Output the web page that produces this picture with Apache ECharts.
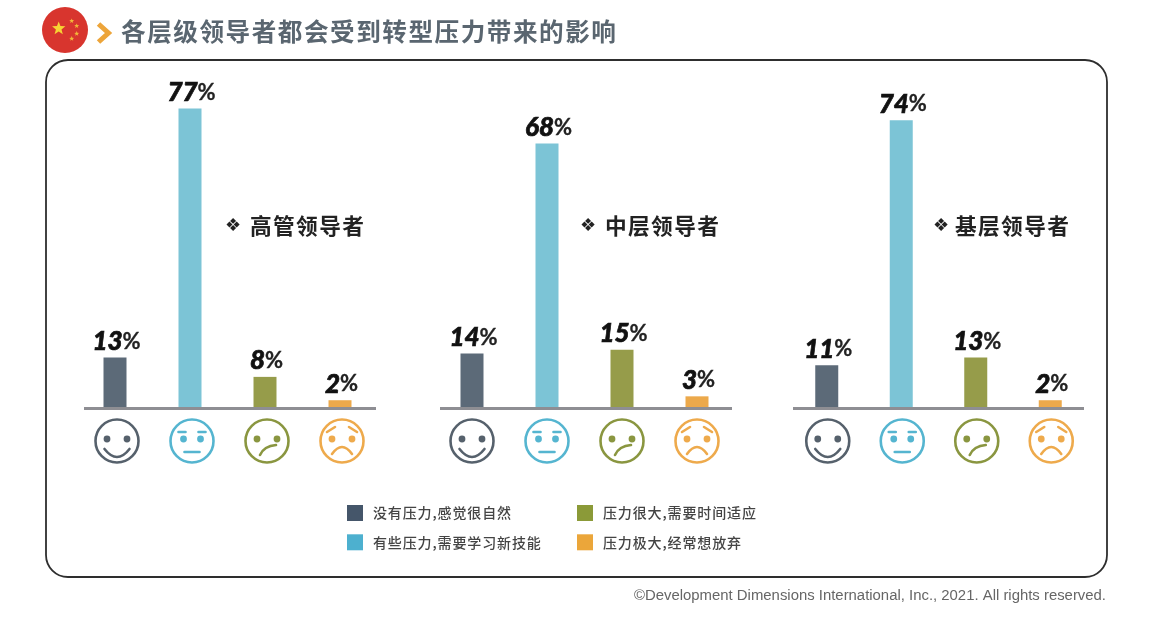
<!DOCTYPE html>
<html><head><meta charset="utf-8">
<script src="https://cdn.jsdelivr.net/npm/echarts@6/dist/echarts.min.js"></script>
<style>html,body{margin:0;padding:0;background:#fff}#c{width:1170px;height:618px}</style></head>
<body><div id="c"></div>
<script>
const titleText = '各层级领导者都会受到转型压力带来的影响';
const footerText = '©Development Dimensions International, Inc., 2021. All rights reserved.';
const levels = ['没有压力,感觉很自然','有些压力,需要学习新技能','压力很大,需要时间适应','压力极大,经常想放弃'];
const groups = ['高管领导者','中层领导者','基层领导者'];
const senior = [13,77,8,2];
const middle = [14,68,15,3];
const junior = [11,74,13,2];
const groupValues = [senior, middle, junior];
const barColors = ['#5c6a78','#7cc4d6','#969c4a','#eca94b'];
const faceColors = ['#56616c','#55b5d0','#8a9640','#eeaa4c'];
const legendColors = ['#45566a','#4db0cf','#8b9a38','#eba63a'];
const grids = [{left:77.5,width:300},{left:434.5,width:300},{left:789.5,width:298}];
const axisSpans = [[84,376],[440,732],[793,1084]];
const groupLabelX = [225,580,933];
const faceShift = [2,0,1];

const sp = s => s.split('').join('\u200a');
const CJK = '"Noto Sans CJK SC"';

const makeFace = shift => function(params, api){
  const k = api.value(0);
  const cx = api.coord([k,0])[0] + shift, cy = api.coord([k,0])[1] + 33;
  const c = faceColors[k];
  const st = {stroke:c, fill:'none', lineWidth:2.6, lineCap:'round'};
  const ch = [{type:'circle',shape:{cx,cy,r:21.5},style:{stroke:c,fill:'none',lineWidth:2.6}}];
  const eye = (dx,dy)=>ch.push({type:'circle',shape:{cx:cx+dx,cy:cy+dy,r:3.4},style:{fill:c}});
  const line = (x1,y1,x2,y2)=>ch.push({type:'line',shape:{x1:cx+x1,y1:cy+y1,x2:cx+x2,y2:cy+y2},style:st});
  const curve = (x1,y1,qx,qy,x2,y2)=>ch.push({type:'bezierCurve',shape:{x1:cx+x1,y1:cy+y1,cpx1:cx+qx,cpy1:cy+qy,x2:cx+x2,y2:cy+y2},style:st});
  const ex = k===1 ? 8.5 : 10;
  eye(-ex,-2); eye(ex,-2);
  if(k===0){ curve(-12.5,8,0,24,12.5,8); }
  if(k===1){ line(-13.5,-9,-6.5,-9); line(6.5,-9,13.5,-9); line(-7.5,11,7.5,11); }
  if(k===2){ curve(-7,14,-3,5,9,4); }
  if(k===3){ line(-15,-9,-7,-14); line(7,-14,15,-9); curve(-10,13,0,-1,10,13); }
  return {type:'group',children:ch};
};

const series = [];
groupValues.forEach((vals,g)=>{
  levels.forEach((name,i)=>{
    series.push({
      type:'bar', name, xAxisIndex:g, yAxisIndex:g, barWidth:23, barGap:'-100%',
      data: vals.map((v,j)=> j===i ? v : null),
      itemStyle:{color:barColors[i]}, silent:true,
      label:{show:true,position:'top',distance:3,offset:[1.5,0],
        formatter:p=>p.value==null?'':`{n|${p.value}}{p|%}`,
        rich:{n:{fontFamily:'Lato',fontStyle:'italic',fontWeight:900,fontSize:26,color:'#111',textBorderColor:'#111',textBorderWidth:0.7},
              p:{fontFamily:'Lato',fontWeight:700,fontSize:22,color:'#222',textBorderColor:'#222',textBorderWidth:0.3}}}
    });
  });
  series.push({type:'custom',xAxisIndex:g,yAxisIndex:g,silent:true,clip:false,
    renderItem:makeFace(faceShift[g]),encode:{x:0,y:1},data:levels.map((_,j)=>[j,0])});
});

function star(cx,cy,r,fill){
  const pts=[];
  for(let i=0;i<10;i++){
    const a=-Math.PI/2+i*Math.PI/5, q=i%2?r*0.42:r;
    pts.push([cx+q*Math.cos(a),cy+q*Math.sin(a)]);
  }
  return {type:'polygon',shape:{points:pts},style:{fill}};
}

const graphic = [
  {type:'rect',shape:{x:46,y:60,width:1061,height:517,r:22},style:{fill:'none',stroke:'#2e2e2e',lineWidth:1.8},z:0},
  {type:'circle',shape:{cx:65,cy:30,r:23},style:{fill:'#d8352e'}},
  star(58.7,28.5,7,'#f7d334'),
  star(71.7,21,2.6,'#f2b83a'), star(76.7,26,2.6,'#f2b83a'), star(76.7,33.7,2.6,'#f2b83a'), star(71.7,38.7,2.6,'#f2b83a'),
  {type:'polyline',shape:{points:[[98.5,24],[108.5,33],[98.5,42]]},style:{stroke:'#eda53a',fill:'none',lineWidth:5}},
  {type:'text',x:121,y:32,style:{text:sp(titleText),font:`700 24.6px ${CJK}`,fill:'#5a6670',textVerticalAlign:'middle'}},
  {type:'text',x:1106,y:596,style:{text:footerText,font:'14.9px "Liberation Sans"',fill:'#666',textAlign:'right',textVerticalAlign:'middle'}}
];
axisSpans.forEach(s=>graphic.push({type:'line',shape:{x1:s[0],y1:408.5,x2:s[1],y2:408.5},style:{stroke:'#8e8e93',lineWidth:3},z:5}));
groups.forEach((g,i)=>{
  graphic.push({type:'text',x:groupLabelX[i],y:226,style:{text:'❖',font:'18px "DejaVu Sans"',fill:'#222',textVerticalAlign:'middle'}});
  graphic.push({type:'text',x:groupLabelX[i]+(i===2?22:25),y:226,style:{text:sp(g),font:`700 21.7px ${CJK}`,fill:'#222',textVerticalAlign:'middle'}});
});

const legendBase = {orient:'vertical',padding:0,itemWidth:16,itemHeight:16,itemGap:13.3,icon:'rect',selectedMode:false,
  textStyle:{fontFamily:CJK,fontWeight:500,fontSize:14,color:'#444',padding:[0,0,0,5]},formatter:n=>sp(n)};

const option = {
  animation:false,
  grid:grids.map(g=>({left:g.left,width:g.width,top:96.8,height:311.2})),
  xAxis:grids.map((g,i)=>({type:'category',gridIndex:i,data:levels,axisLine:{show:false},axisTick:{show:false},axisLabel:{show:false}})),
  yAxis:grids.map((g,i)=>({type:'value',gridIndex:i,min:0,max:80,show:false,splitLine:{show:false}})),
  legend:[
    {...legendBase,left:347,top:505,data:[{name:levels[0],itemStyle:{color:legendColors[0]}},{name:levels[1],itemStyle:{color:legendColors[1]}}]},
    {...legendBase,left:577,top:505,data:[{name:levels[2],itemStyle:{color:legendColors[2]}},{name:levels[3],itemStyle:{color:legendColors[3]}}]}
  ],
  series, graphic
};
echarts.init(document.getElementById('c')).setOption(option);
</script></body></html>
